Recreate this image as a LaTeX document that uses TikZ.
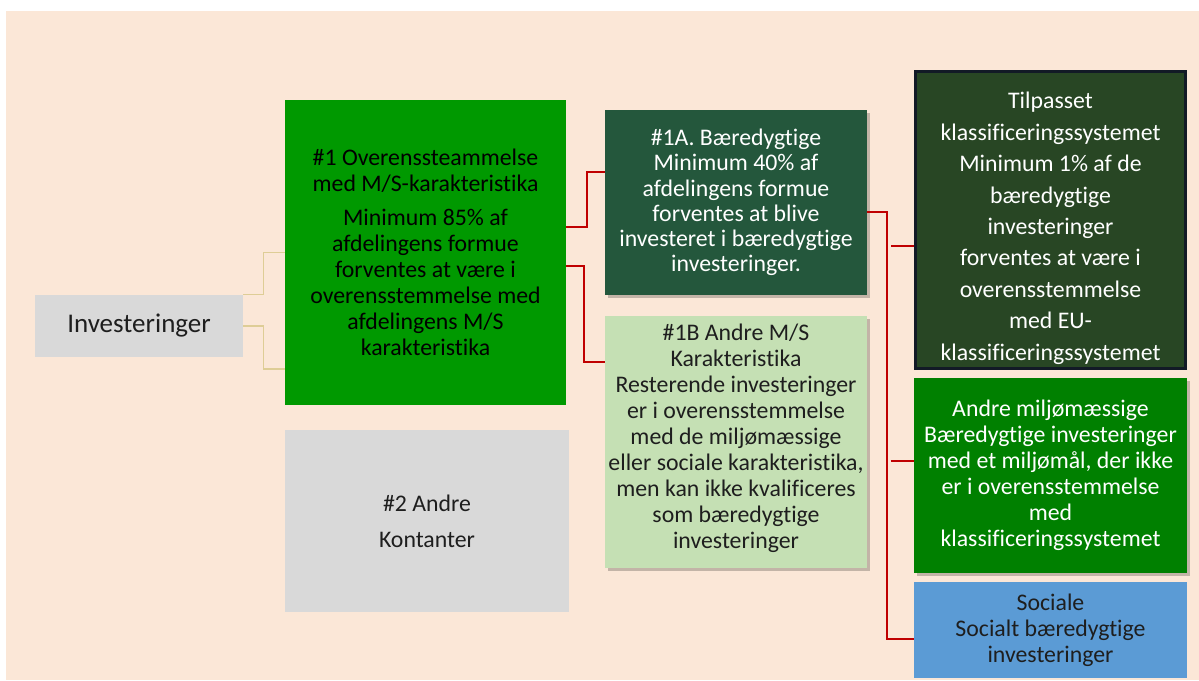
\documentclass[tikz,border=0pt]{standalone}
\usepackage{fontspec}
\setmainfont{Carlito}[Ligatures=NoCommon]
\usetikzlibrary{shapes,shadows}

\definecolor{peach}{RGB}{251,231,215}
\definecolor{greyfill}{RGB}{217,217,217}
\definecolor{maingreen}{RGB}{0,153,0}
\definecolor{darkgreen}{RGB}{36,87,60}
\definecolor{taxgreen}{RGB}{40,70,36}
\definecolor{taxborder}{RGB}{18,26,38}
\definecolor{envgreen}{RGB}{0,128,0}
\definecolor{lightgreen}{RGB}{197,224,180}
\definecolor{socblue}{RGB}{91,155,213}
\definecolor{redline}{RGB}{192,0,0}
\definecolor{tanline}{RGB}{222,205,150}
\definecolor{darktext}{RGB}{30,30,30}

\begin{document}
\begin{tikzpicture}[node distance = 100pt, auto]
  \tikzstyle{box} = [rectangle, align=center, inner sep=0pt,
    font=\fontsize{11.9}{13}\selectfont]
  \tikzstyle{grey} = [box, fill=greyfill, text=darktext]
  \tikzstyle{shade} = [drop shadow={shadow xshift=1.5pt, shadow yshift=-1.5pt, fill=black, opacity=0.22}]
  \tikzstyle{line} = [draw=redline, line width=1pt]
  \tikzstyle{tan} = [draw=tanline, line width=0.8pt]

  % Background
  \fill [white] (0,0) rectangle (599.5pt,-340pt);
  \fill [peach] (3pt,-5.5pt) rectangle (599.5pt,-340pt);
  \useasboundingbox (0,0) rectangle (599.5pt,-340pt);

  % Place nodes
  \node [box, fill=maingreen, text=black, minimum width=140.5pt, minimum height=152.5pt]
    at (212.75pt,-126.25pt) (ms) {\#1 Overenssteammelse\\ med M/S-karakteristika\\[4pt]
    Minimum 85\% af\\ afdelingens formue\\ forventes at være i\\ overensstemmelse med\\
    afdelingens M/S\\ karakteristika};
  \node [grey, left of=ms, node distance=143.25pt, yshift=-36.75pt,
    minimum width=104pt, minimum height=31pt, font=\fontsize{13.5}{16}\selectfont] (inv) {Investeringer};
  \node [grey, below of=ms, node distance=134.25pt, xshift=0.75pt,
    minimum width=142pt, minimum height=91pt] (other) {\#2 Andre\\[5pt] Kontanter};
  \node [box, shade, fill=darkgreen, text=white, right of=ms, node distance=155.25pt, yshift=25pt,
    minimum width=131pt, minimum height=92.5pt, font=\fontsize{11.9}{12.6}\selectfont] (sust)
    {\#1A. Bæredygtige\\ Minimum 40\% af\\ afdelingens formue\\ forventes at blive\\
    investeret i bæredygtige\\ investeringer.};
  \node [box, shade, fill=lightgreen, text=darktext, below of=sust, node distance=119.75pt,
    minimum width=131pt, minimum height=126pt] (otherms)
    {\#1B Andre M/S\\ Karakteristika\\ Resterende investeringer\\ er i overensstemmelse\\
    med de miljømæssige\\ eller sociale karakteristika,\\ men kan ikke kvalificeres\\
    som bæredygtige\\ investeringer\\[-7pt]\mbox{}};
  \node [box, fill=taxgreen, draw=taxborder, line width=1.5pt, text=white, right of=sust,
    node distance=157.25pt, yshift=-8.75pt, minimum width=135pt, minimum height=148.5pt,
    font=\fontsize{11.9}{15.7}\selectfont] (tax)
    {\rule{0pt}{16.5pt}Tilpasset\\ klassificeringssystemet\\ Minimum 1\% af de\\ bæredygtige\\ investeringer\\
    forventes at være i\\ overensstemmelse\\ med EU-\\ klassificeringssystemet};
  \node [box, shade, fill=envgreen, text=white, below of=tax, node distance=127.75pt,
    minimum width=136.5pt, minimum height=97.5pt] (env)
    {Andre miljømæssige\\ Bæredygtige investeringer\\ med et miljømål, der ikke\\
    er i overensstemmelse\\ med\\ klassificeringssystemet};
  \node [box, fill=socblue, text=darktext, below of=env, node distance=77.25pt,
    minimum width=136.5pt, minimum height=48pt] (soc)
    {Sociale\\ Socialt bæredygtige\\ investeringer};

  \coordinate (taxstub) at ([xshift=-11.5pt, yshift=-13pt]tax.west);
  \coordinate (envstub) at ([xshift=-11.5pt, yshift=7.25pt]env.west);

  % Draw edges
  \path [tan] (inv.north east) -- ++(10pt,0) |- (ms.west);
  \path [tan] (inv.east) -- ++(10pt,0) |- ([yshift=-58.25pt]ms.west);

  \path [line] ([yshift=12.75pt]ms.east) -- ++(10.5pt,0) |- ([yshift=15.25pt]sust.west);
  \path [line] ([yshift=-6.75pt]ms.east) -- ++(9pt,0) |- ([yshift=40pt]otherms.west);

  \path [line] ([yshift=-4.75pt]sust.east) -- ++(10pt,0) |- ([yshift=-4.5pt]soc.west);
  \path [line] (taxstub) -- ([yshift=-13pt]tax.west);
  \path [line] (envstub) -- ([yshift=7.25pt]env.west);
\end{tikzpicture}
\end{document}
